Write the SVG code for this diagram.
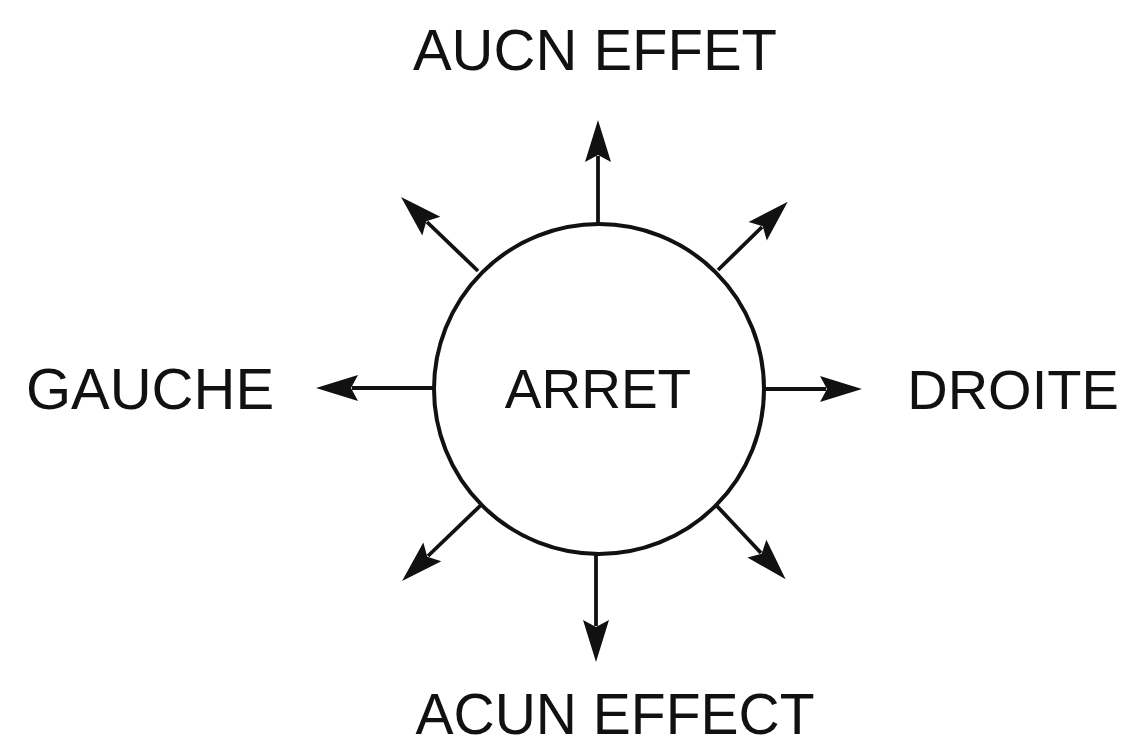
<svg xmlns="http://www.w3.org/2000/svg" width="1137" height="745" viewBox="0 0 1137 745">
<style>
.lbl{font-family:"Liberation Sans",Arial,sans-serif;font-size:58px;fill:#111;text-anchor:middle}
.arr{stroke:#111;stroke-width:3.8;fill:none;marker-end:url(#head)}
</style>
<defs>
<marker id="head" markerUnits="userSpaceOnUse" orient="auto" markerWidth="60" markerHeight="40" refX="0" refY="0" viewBox="-10 -20 50 40" overflow="visible">
<path d="M36,0 L-6,-13 L1,0 L-6,13 Z" fill="#111"/>
</marker>
</defs>
<rect width="1137" height="745" fill="#fff"/>
<g id="connectors">
<line class="arr" x1="598" y1="224" x2="598" y2="156"/>
<line class="arr" x1="433" y1="388" x2="352" y2="388"/>
<line class="arr" x1="765" y1="389" x2="826" y2="389"/>
<line class="arr" x1="596" y1="554" x2="596" y2="626"/>
<line class="arr" x1="478" y1="271" x2="427" y2="222"/>
<line class="arr" x1="718" y1="270" x2="762" y2="227"/>
<line class="arr" x1="481" y1="505" x2="428" y2="556"/>
<line class="arr" x1="716" y1="505" x2="761" y2="553"/>
</g>
<g id="node-arret">
<circle cx="599" cy="389" r="165" fill="#fff" stroke="#111" stroke-width="4"/>
<text class="lbl" x="598" y="408" style="font-size:55px">ARRET</text>
</g>
<g id="node-haut"><text class="lbl" x="595" y="70">AUCN EFFET</text></g>
<g id="node-bas"><text class="lbl" x="615" y="734" style="font-size:57px">ACUN EFFECT</text></g>
<g id="node-gauche"><text class="lbl" x="150" y="409">GAUCHE</text></g>
<g id="node-droite"><text class="lbl" x="1013" y="409" style="font-size:56px">DROITE</text></g>
</svg>
